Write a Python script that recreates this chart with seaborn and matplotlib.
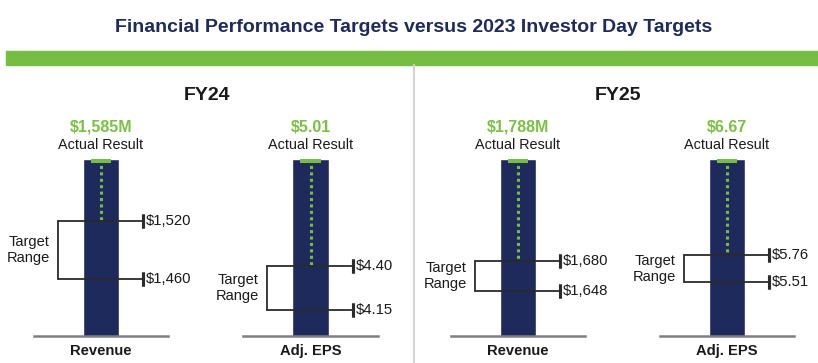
import numpy as np
import pandas as pd
import matplotlib
matplotlib.use('Agg')
import matplotlib.pyplot as plt
import seaborn as sns
from matplotlib.patches import Rectangle
from matplotlib.lines import Line2D

sns.set_style('white')
plt.rcParams['font.family'] = ['Liberation Sans', 'DejaVu Sans']

# data
years = ['FY24', 'FY24', 'FY25', 'FY25']
metrics = ['Revenue', 'Adj. EPS', 'Revenue', 'Adj. EPS']
actuals = [1585, 5.01, 1788, 6.67]
target_low = [1460, 4.15, 1648, 5.51]
target_high = [1520, 4.40, 1680, 5.76]
axis_floor = [1400, 4.0, 1600, 5.0]
is_money_m = [True, False, True, False]

NAVY = '#1f2a5c'
GREEN = '#76bd43'
GREEN_TXT = '#7ac143'
W, H = 818, 363

fig = plt.figure(figsize=(W / 100, H / 100), dpi=100)

# header
fig.text(414 / W, 1 - 28 / H, 'Financial Performance Targets versus 2023 Investor Day Targets',
         ha='center', va='center', fontsize=14, fontweight='bold', color=NAVY)
fig.patches.append(Rectangle((6 / W, 1 - 65 / H), 1 - 6 / W, 14 / H,
                             transform=fig.transFigure, color=GREEN, zorder=0))
fig.lines.append(Line2D([413.5 / W, 413.5 / W], [0, 1 - 65 / H], transform=fig.transFigure,
                        color='#d3d3d3', lw=1.5))
fig.text(207 / W, 1 - 95 / H, 'FY24', ha='center', va='center', fontsize=14, fontweight='bold', color='#1a1a1a')
fig.text(618 / W, 1 - 95 / H, 'FY25', ha='center', va='center', fontsize=14, fontweight='bold', color='#1a1a1a')

# panel boxes in pixels: left, right
panel_x = [(34, 168), (243, 378), (451, 585), (660, 794)]
top_px, bot_px = 159, 336

for i in range(4):
    x0, x1 = panel_x[i]
    ax = fig.add_axes([x0 / W, 1 - bot_px / H, (x1 - x0) / W, (bot_px - top_px) / H])
    df = pd.DataFrame({'metric': [metrics[i]], 'value': [actuals[i]]})
    sns.barplot(data=df, x='metric', y='value', color=NAVY, width=0.27, saturation=1, ax=ax)
    ax.set_xlim(-0.5, 0.5)
    ax.set_ylim(axis_floor[i], actuals[i])
    ax.set_xlabel('')
    ax.set_ylabel('')
    ax.set_yticks([])
    for s in ['top', 'left', 'right']:
        ax.spines[s].set_visible(False)
    ax.spines['bottom'].set_color('#808080')
    ax.spines['bottom'].set_linewidth(1.8)
    ax.tick_params(axis='x', length=0, pad=6)
    for lab in ax.get_xticklabels():
        lab.set_fontweight('bold')
        lab.set_fontsize(10.6)
        lab.set_color('#1a1a1a')

    # actual marker and dotted line
    ax.plot([-0.078, 0.078], [actuals[i], actuals[i]], color=GREEN, lw=5.8, solid_capstyle='butt')
    ax.plot([0, 0], [actuals[i], target_high[i]], color=GREEN, lw=2.2,
            linestyle=(0, (1, 1.1)), dash_capstyle='butt')

    # target bracket
    xl, xr = -0.32, 0.312
    for v in (target_high[i], target_low[i]):
        ax.plot([xl, xr], [v, v], color='#2b2b2b', lw=1.3, clip_on=False, zorder=5)
        ax.plot([xr, xr], [v, v], marker='|', markersize=10, mew=2.2, color='#2b2b2b', clip_on=False, zorder=5)
        lab = f'${v:,.0f}' if is_money_m[i] else f'${v:.2f}'
        ax.text(xr + 0.022, v, lab, ha='left', va='center', fontsize=10.7, color='#1a1a1a', clip_on=False)
    ax.plot([xl, xl], [target_low[i], target_high[i]], color='#2b2b2b', lw=1.3, clip_on=False, zorder=5)
    ax.text(xl - 0.22, (target_low[i] + target_high[i]) / 2, 'Target\nRange', ha='center', va='center',
            fontsize=10.5, color='#1a1a1a', linespacing=1.2)

    # header above bar
    top_lab = f'${actuals[i]:,.0f}M' if is_money_m[i] else f'${actuals[i]:.2f}'
    ax.annotate(top_lab, xy=(0, actuals[i]), xytext=(0, 23), textcoords='offset points',
                ha='center', va='center', fontsize=11.5, fontweight='bold', color=GREEN_TXT,
                annotation_clip=False)
    ax.annotate('Actual Result', xy=(0, actuals[i]), xytext=(0, 10), textcoords='offset points',
                ha='center', va='center', fontsize=10.4, color='#1a1a1a', annotation_clip=False)

fig.savefig('out.png', dpi=100)
